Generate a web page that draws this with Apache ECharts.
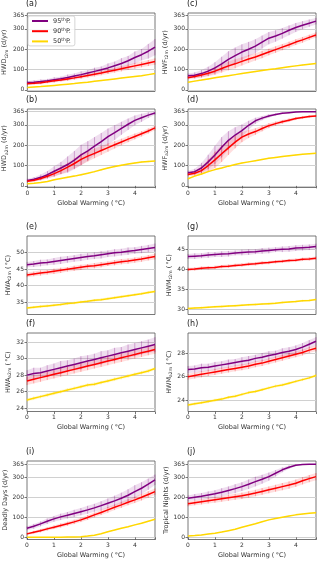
<!DOCTYPE html>
<html>
<head>
<meta charset="utf-8">
<script src="https://cdn.jsdelivr.net/npm/echarts@6/dist/echarts.min.js"></script>
<style>
    html, body { margin: 0; padding: 0; background: #fff; }
    #chart-main { width: 320px; height: 562px; }
</style>
</head>
<body>
<div id="chart-main"></div>
<script>
'use strict';

// global warming levels (deg C)
var X = [0, 0.25, 0.5, 0.75, 1, 1.25, 1.5, 1.75, 2, 2.25, 2.5, 2.75, 3, 3.25, 3.5, 3.75, 4, 4.25, 4.5, 4.75];
var dayTicks = [0, 100, 200, 300, 365];

// (a) HWD t2m
var hwdT95 = [36, 38, 41, 45, 50, 55, 61, 68, 75, 83, 91, 99, 108, 119, 130, 143, 159, 173, 190, 210];
var hwdT90 = [30, 32, 35, 40, 45, 49, 54, 59, 65, 71, 77, 83, 90, 97, 104, 111, 118, 125, 132, 139];
var hwdT50 = [12, 14, 16, 19, 22, 25, 28, 31, 35, 38, 42, 46, 50, 54, 58, 62, 66, 70, 75, 80];
var hwdT95sd = [8, 9, 10, 9, 12, 10, 14, 12, 16, 14, 18, 16, 22, 20, 26, 24, 30, 28, 36, 40];
var hwdT90sd = [6, 6, 7, 7, 8, 8, 9, 9, 10, 10, 11, 11, 12, 12, 13, 13, 14, 14, 15, 16];
var hwdT50sd = [2, 2, 2, 2, 2, 2, 2, 2, 3, 3, 3, 3, 3, 3, 3, 3, 3, 3, 3, 3];

// (b) HWD a2m
var hwdA95 = [27, 33, 42, 55, 72, 88, 105, 127, 152, 172, 195, 218, 242, 262, 283, 303, 322, 335, 348, 358];
var hwdA90 = [23, 28, 36, 47, 60, 75, 92, 110, 130, 146, 160, 174, 188, 202, 216, 230, 243, 256, 270, 285];
var hwdA50 = [10, 13, 17, 22, 30, 36, 42, 48, 55, 62, 70, 79, 88, 95, 101, 107, 113, 117, 120, 122];
var hwdA95sd = [8, 10, 14, 18, 25, 30, 40, 45, 50, 48, 45, 42, 40, 36, 32, 28, 24, 20, 14, 8];
var hwdA90sd = [5, 6, 8, 10, 15, 18, 22, 25, 28, 26, 24, 22, 20, 18, 16, 15, 14, 13, 12, 12];
var hwdA50sd = [2, 2, 3, 3, 3, 3, 4, 4, 4, 4, 4, 4, 4, 4, 4, 4, 4, 4, 4, 4];

// (c) HWF t2m
var hwfT95 = [70, 72, 80, 92, 108, 128, 150, 168, 186, 200, 215, 235, 254, 265, 278, 293, 307, 318, 328, 338];
var hwfT90 = [60, 66, 73, 82, 92, 105, 118, 128, 140, 152, 162, 174, 186, 198, 210, 222, 235, 246, 258, 270];
var hwfT50 = [37, 43, 48, 54, 60, 65, 70, 75, 80, 85, 90, 95, 100, 104, 109, 114, 118, 122, 126, 130];
var hwfT95sd = [10, 14, 18, 22, 28, 35, 40, 40, 38, 36, 34, 32, 30, 28, 26, 24, 22, 20, 18, 16];
var hwfT90sd = [8, 10, 12, 15, 18, 20, 22, 22, 20, 20, 18, 18, 16, 16, 15, 15, 14, 14, 13, 13];
var hwfT50sd = [3, 3, 3, 3, 3, 3, 3, 3, 3, 3, 3, 3, 3, 3, 3, 3, 3, 3, 3, 3];

// (d) HWF a2m
var hwfA95 = [64, 70, 88, 118, 152, 190, 224, 250, 272, 298, 320, 333, 344, 351, 357, 360, 363, 364, 365, 365];
var hwfA90 = [56, 62, 75, 100, 128, 158, 187, 215, 240, 255, 267, 282, 296, 306, 315, 323, 331, 336, 341, 344];
var hwfA50 = [35, 48, 58, 70, 80, 88, 97, 105, 112, 118, 124, 130, 136, 140, 144, 148, 152, 155, 158, 160];
var hwfA95sd = [10, 14, 25, 35, 45, 50, 45, 38, 30, 22, 15, 10, 8, 5, 4, 3, 2, 1, 0, 0];
var hwfA90sd = [8, 12, 20, 30, 40, 40, 35, 30, 25, 20, 16, 14, 12, 10, 9, 8, 7, 6, 6, 5];
var hwfA50sd = [3, 3, 3, 3, 3, 3, 3, 3, 3, 3, 3, 3, 3, 3, 3, 3, 3, 3, 3, 3];

// (e) HWA t2m
var hwaT95 = [46.3, 46.5, 46.8, 47.0, 47.3, 47.6, 47.9, 48.2, 48.5, 48.8, 49.0, 49.3, 49.6, 49.9, 50.1, 50.4, 50.6, 50.9, 51.2, 51.5];
var hwaT90 = [43.2, 43.5, 43.8, 44.0, 44.3, 44.6, 44.9, 45.2, 45.5, 45.8, 46.0, 46.3, 46.6, 46.9, 47.2, 47.4, 47.7, 48.0, 48.4, 48.8];
var hwaT50 = [33.2, 33.4, 33.6, 33.8, 34.0, 34.2, 34.5, 34.7, 35.0, 35.2, 35.5, 35.7, 36.0, 36.3, 36.6, 36.9, 37.2, 37.5, 37.9, 38.2];
var hwaT95sd = [0.8, 0.9, 1.0, 0.9, 1.0, 1.1, 1.0, 1.0, 1.1, 1.0, 1.0, 1.1, 1.0, 1.1, 1.0, 1.1, 1.0, 1.1, 1.1, 1.2];
var hwaT90sd = [0.7, 0.7, 0.8, 0.7, 0.8, 0.8, 0.7, 0.8, 0.8, 0.7, 0.8, 0.8, 0.7, 0.8, 0.8, 0.8, 0.8, 0.8, 0.8, 0.9];
var hwaT50sd = [0.4, 0.4, 0.4, 0.4, 0.4, 0.4, 0.4, 0.4, 0.4, 0.4, 0.4, 0.4, 0.4, 0.4, 0.4, 0.4, 0.4, 0.4, 0.4, 0.4];

// (f) HWA a2m
var hwaA95 = [28.0, 28.2, 28.3, 28.5, 28.7, 28.9, 29.1, 29.3, 29.5, 29.7, 29.9, 30.1, 30.3, 30.5, 30.7, 30.9, 31.1, 31.3, 31.5, 31.7];
var hwaA90 = [27.3, 27.5, 27.7, 27.9, 28.1, 28.3, 28.5, 28.7, 28.9, 29.1, 29.3, 29.5, 29.7, 29.9, 30.1, 30.3, 30.5, 30.7, 30.9, 31.1];
var hwaA50 = [25.0, 25.2, 25.4, 25.6, 25.8, 26.0, 26.2, 26.4, 26.6, 26.8, 26.9, 27.1, 27.3, 27.5, 27.7, 27.9, 28.1, 28.3, 28.5, 28.8];
var hwaA95sd = [0.6, 0.7, 0.6, 0.7, 0.7, 0.8, 0.7, 0.7, 0.8, 0.7, 0.7, 0.8, 0.7, 0.8, 0.7, 0.8, 0.8, 0.8, 0.8, 0.9];
var hwaA90sd = [0.5, 0.5, 0.5, 0.5, 0.5, 0.5, 0.5, 0.5, 0.5, 0.5, 0.5, 0.5, 0.5, 0.5, 0.5, 0.5, 0.5, 0.5, 0.5, 0.5];
var hwaA50sd = [0.2, 0.2, 0.2, 0.2, 0.2, 0.2, 0.2, 0.2, 0.2, 0.2, 0.2, 0.2, 0.2, 0.2, 0.2, 0.2, 0.2, 0.2, 0.2, 0.2];

// (g) HWM t2m
var hwmT95 = [43.2, 43.3, 43.4, 43.6, 43.7, 43.8, 43.9, 44.1, 44.2, 44.3, 44.4, 44.6, 44.7, 44.9, 45.0, 45.1, 45.3, 45.4, 45.5, 45.7];
var hwmT90 = [40.0, 40.1, 40.3, 40.4, 40.5, 40.7, 40.8, 41.0, 41.1, 41.3, 41.4, 41.6, 41.7, 41.9, 42.0, 42.2, 42.3, 42.5, 42.6, 42.8];
var hwmT50 = [30.3, 30.4, 30.5, 30.6, 30.7, 30.8, 30.9, 31.0, 31.1, 31.2, 31.3, 31.4, 31.5, 31.6, 31.8, 31.9, 32.0, 32.2, 32.3, 32.5];
var hwmT95sd = [0.6, 0.7, 0.6, 0.7, 0.6, 0.7, 0.7, 0.6, 0.7, 0.7, 0.6, 0.7, 0.7, 0.6, 0.7, 0.7, 0.7, 0.7, 0.7, 0.7];
var hwmT90sd = [0.4, 0.4, 0.4, 0.4, 0.4, 0.4, 0.4, 0.4, 0.4, 0.4, 0.4, 0.4, 0.4, 0.4, 0.4, 0.4, 0.4, 0.4, 0.4, 0.4];
var hwmT50sd = [0.25, 0.25, 0.25, 0.25, 0.25, 0.25, 0.25, 0.25, 0.25, 0.25, 0.25, 0.25, 0.25, 0.25, 0.25, 0.25, 0.25, 0.25, 0.25, 0.25];

// (h) HWM a2m
var hwmA95 = [26.6, 26.65, 26.75, 26.8, 26.9, 27.0, 27.1, 27.2, 27.3, 27.4, 27.55, 27.65, 27.8, 27.9, 28.05, 28.15, 28.3, 28.5, 28.75, 29.0];
var hwmA90 = [26.0, 26.1, 26.2, 26.3, 26.4, 26.5, 26.6, 26.7, 26.8, 26.9, 27.05, 27.15, 27.3, 27.45, 27.6, 27.75, 27.9, 28.05, 28.25, 28.4];
var hwmA50 = [23.6, 23.7, 23.8, 23.9, 24.0, 24.1, 24.25, 24.35, 24.5, 24.65, 24.75, 24.9, 25.05, 25.2, 25.3, 25.45, 25.6, 25.75, 25.9, 26.1];
var hwmA95sd = [0.3, 0.3, 0.35, 0.3, 0.35, 0.3, 0.35, 0.3, 0.35, 0.35, 0.3, 0.35, 0.35, 0.3, 0.35, 0.35, 0.35, 0.35, 0.35, 0.35];
var hwmA90sd = [0.25, 0.25, 0.25, 0.25, 0.25, 0.25, 0.25, 0.25, 0.25, 0.25, 0.25, 0.25, 0.25, 0.25, 0.25, 0.25, 0.25, 0.25, 0.25, 0.25];
var hwmA50sd = [0.12, 0.12, 0.12, 0.12, 0.12, 0.12, 0.12, 0.12, 0.12, 0.12, 0.12, 0.12, 0.12, 0.12, 0.12, 0.12, 0.12, 0.12, 0.12, 0.12];

// (i) deadly days
var dead95 = [45, 55, 67, 80, 92, 102, 110, 119, 128, 137, 147, 158, 170, 182, 195, 210, 228, 245, 265, 287];
var dead90 = [17, 25, 33, 42, 50, 59, 68, 77, 87, 99, 112, 124, 137, 150, 162, 175, 187, 200, 214, 228];
var dead50 = [0, 0, 0, 0, 0, 0, 1, 2, 3, 6, 10, 18, 28, 36, 45, 53, 62, 70, 80, 90];
var dead95sd = [10, 12, 12, 14, 14, 16, 16, 18, 18, 20, 20, 22, 24, 26, 28, 30, 32, 30, 28, 26];
var dead90sd = [6, 7, 8, 8, 9, 10, 10, 11, 11, 12, 12, 13, 14, 14, 15, 15, 16, 16, 16, 16];
var dead50sd = [0, 0, 0, 0, 0, 0, 1, 1, 1, 2, 2, 2, 3, 3, 3, 3, 3, 3, 3, 3];

// (j) tropical nights
var trop95 = [195, 200, 205, 211, 217, 225, 234, 243, 253, 265, 278, 290, 303, 320, 337, 350, 360, 364, 365, 365];
var trop90 = [167, 172, 177, 182, 187, 192, 197, 202, 207, 214, 221, 229, 237, 245, 253, 261, 270, 282, 293, 303];
var trop50 = [7, 9, 12, 16, 20, 26, 33, 40, 50, 59, 68, 78, 87, 94, 100, 106, 112, 116, 120, 123];
var trop95sd = [14, 16, 16, 18, 18, 20, 20, 22, 22, 24, 24, 22, 20, 16, 12, 8, 4, 2, 0, 0];
var trop90sd = [12, 12, 13, 13, 14, 14, 15, 15, 16, 16, 16, 17, 17, 17, 18, 18, 18, 18, 18, 18];
var trop50sd = [2, 2, 2, 2, 2, 2, 2, 2, 2, 2, 2, 2, 2, 2, 2, 2, 2, 2, 2, 2];

var COLORS = {p95: '#800080', p90: '#ff0000', p50: '#ffd700'};
var HAZE = {p95: 'rgba(128,0,128,', p90: 'rgba(255,0,0,', p50: 'rgba(255,215,0,'};
var FONT = 'DejaVu Sans';

var COL_LEFT = [27, 188];
var COL_W = 128;
var ROW_TOP = [13, 109, 236, 333, 461];
var ROW_H = 78.5;

var degC = '{t| (\u2009°C)}';
var dayUnit = '{t| (d/yr)}';

var panels = [
    {tag: '(a)', col: 0, row: 0, min: -8, max: 378, ticks: dayTicks, gap: 14, xlab: false,
        name: '{t|HWD}{s|t2m}' + dayUnit, d: [hwdT95, hwdT90, hwdT50], sd: [hwdT95sd, hwdT90sd, hwdT50sd]},
    {tag: '(b)', col: 0, row: 1, min: -8, max: 378, ticks: dayTicks, gap: 14, xlab: true,
        name: '{t|HWD}{s|a2m}' + dayUnit, d: [hwdA95, hwdA90, hwdA50], sd: [hwdA95sd, hwdA90sd, hwdA50sd]},
    {tag: '(c)', col: 1, row: 0, min: -8, max: 378, ticks: dayTicks, gap: 14, xlab: false,
        name: '{t|HWF}{s|t2m}' + dayUnit, d: [hwfT95, hwfT90, hwfT50], sd: [hwfT95sd, hwfT90sd, hwfT50sd]},
    {tag: '(d)', col: 1, row: 1, min: -8, max: 378, ticks: dayTicks, gap: 14, xlab: true,
        name: '{t|HWF}{s|a2m}' + dayUnit, d: [hwfA95, hwfA90, hwfA50], sd: [hwfA95sd, hwfA90sd, hwfA50sd]},
    {tag: '(e)', col: 0, row: 2, min: 31.2, max: 55, ticks: [35, 40, 45, 50], gap: 11, xlab: false,
        name: '{t|HWA}{s|t2m}' + degC, d: [hwaT95, hwaT90, hwaT50], sd: [hwaT95sd, hwaT90sd, hwaT50sd]},
    {tag: '(f)', col: 0, row: 3, min: 23.6, max: 33.1, ticks: [24, 26, 28, 30, 32], gap: 11, xlab: true,
        name: '{t|HWA}{s|a2m}' + degC, d: [hwaA95, hwaA90, hwaA50], sd: [hwaA95sd, hwaA90sd, hwaA50sd]},
    {tag: '(g)', col: 1, row: 2, min: 28.8, max: 48.3, ticks: [30, 35, 40, 45], gap: 11, xlab: false,
        name: '{t|HWM}{s|t2m}' + degC, d: [hwmT95, hwmT90, hwmT50], sd: [hwmT95sd, hwmT90sd, hwmT50sd]},
    {tag: '(h)', col: 1, row: 3, min: 23.05, max: 29.7, ticks: [24, 26, 28], gap: 11, xlab: true,
        name: '{t|HWM}{s|a2m}' + degC, d: [hwmA95, hwmA90, hwmA50], sd: [hwmA95sd, hwmA90sd, hwmA50sd]},
    {tag: '(i)', col: 0, row: 4, min: -11, max: 381, ticks: dayTicks, gap: 14, xlab: true,
        name: '{t|Deadly Days (d/yr)}', d: [dead95, dead90, dead50], sd: [dead95sd, dead90sd, dead50sd]},
    {tag: '(j)', col: 1, row: 4, min: -11, max: 381, ticks: dayTicks, gap: 14, xlab: true,
        name: '{t|Tropical Nights (d/yr)}', d: [trop95, trop90, trop50], sd: [trop95sd, trop90sd, trop50sd]}
];

var keys = ['p95', 'p90', 'p50'];
var legendNames = ['95', '90', '50'];

function hazeRender(lo, hi, key) {
    return function (params, api) {
        var i = params.dataIndex;
        var a = api.coord([X[i], lo[i]]);
        var b = api.coord([X[i], hi[i]]);
        var children = [{
            type: 'line',
            shape: {x1: a[0], y1: a[1], x2: b[0], y2: b[1]},
            style: {stroke: HAZE[key] + '0.3)', lineWidth: 1}
        }];
        if (i < X.length - 1) {
            var c = api.coord([X[i + 1], lo[i + 1]]);
            var d = api.coord([X[i + 1], hi[i + 1]]);
            children.push({
                type: 'polygon',
                shape: {points: [a, c, d, b]},
                style: {fill: HAZE[key] + '0.13)'}
            });
        }
        return {type: 'group', children: children};
    };
}

var grids = [], xAxes = [], yAxes = [], titles = [], series = [];

panels.forEach(function (p, gi) {
    var top = ROW_TOP[p.row];
    grids.push({
        left: COL_LEFT[p.col], top: top, width: COL_W, height: ROW_H,
        show: true, borderColor: '#555', borderWidth: 0.8, backgroundColor: 'transparent'
    });
    titles.push({
        text: p.tag, left: COL_LEFT[p.col] - 1, top: top - 13, padding: 0,
        textStyle: {fontFamily: FONT, fontSize: 8, fontWeight: 'normal', color: '#222'}
    });
    xAxes.push({
        type: 'value', gridIndex: gi, min: 0, max: 4.75, interval: 1,
        axisLine: {show: false},
        axisTick: {show: p.xlab, length: 2.5, lineStyle: {color: '#555', width: 0.8}},
        axisLabel: {show: p.xlab, fontFamily: FONT, fontSize: 6, color: '#333', margin: 3,
            formatter: function (v) { return v <= 4 ? String(v) : ''; }},
        splitLine: {show: false},
        name: p.xlab ? 'Global Warming (\u2009°C)' : '',
        nameLocation: 'middle', nameGap: 12,
        nameTextStyle: {fontFamily: FONT, fontSize: 6.5, color: '#333'}
    });
    yAxes.push({
        type: 'value', gridIndex: gi, min: p.min, max: p.max,
        axisLine: {show: false},
        axisTick: {show: true, length: 2.5, customValues: p.ticks, lineStyle: {color: '#555', width: 0.8}},
        axisLabel: {fontFamily: FONT, fontSize: 6, color: '#333', margin: 3, customValues: p.ticks},
        splitLine: {show: true, lineStyle: {color: '#d0d0d0', width: 1}},
        name: p.name, nameLocation: 'middle', nameRotate: 90, nameGap: p.gap,
        nameTextStyle: {
            rich: {
                t: {fontFamily: FONT, fontSize: 6.5, color: '#333', lineHeight: 9},
                s: {fontFamily: FONT, fontSize: 4.5, color: '#333', lineHeight: 5, verticalAlign: 'bottom'}
            }
        }
    });
    keys.forEach(function (k, ki) {
        var mid = p.d[ki], sd = p.sd[ki];
        var lo = mid.map(function (v, i) { return Math.max(v - sd[i], p.min); });
        var hi = mid.map(function (v, i) { return Math.min(v + sd[i], p.max); });
        series.push({
            type: 'custom', name: legendNames[ki] + ' spread', xAxisIndex: gi, yAxisIndex: gi,
            silent: true, z: 1,
            data: X.map(function (x, i) { return [x, lo[i], hi[i]]; }),
            encode: {x: 0, y: [1, 2]},
            renderItem: hazeRender(lo, hi, k)
        });
    });
    keys.forEach(function (k, ki) {
        series.push({
            type: 'line', name: legendNames[ki], xAxisIndex: gi, yAxisIndex: gi,
            data: X.map(function (x, i) { return [x, p.d[ki][i]]; }),
            symbol: 'none', z: 3, silent: true,
            lineStyle: {color: COLORS[k], width: 1.5},
            itemStyle: {color: COLORS[k]}
        });
    });
});

var option = {
    animation: false,
    backgroundColor: '#fff',
    title: titles,
    grid: grids,
    xAxis: xAxes,
    yAxis: yAxes,
    legend: {
        data: legendNames, orient: 'vertical', left: 28, top: 16,
        padding: [1, 4, 1, 4], itemGap: 2.7, itemWidth: 16, itemHeight: 2, icon: 'rect',
        backgroundColor: 'rgba(255,255,255,0.85)', borderColor: '#ccc', borderWidth: 0.8, borderRadius: 2,
        selectedMode: false, z: 10,
        formatter: function (n) { return '{n|' + n + '}{s|th}{n|P.}'; },
        textStyle: {
            rich: {
                n: {fontFamily: FONT, fontSize: 6.5, color: '#333', lineHeight: 8},
                s: {fontFamily: FONT, fontSize: 4.5, color: '#333', lineHeight: 4, verticalAlign: 'top'}
            }
        }
    },
    series: series
};

var myChart = echarts.init(document.getElementById('chart-main'));
myChart.setOption(option);
</script>
</body>
</html>
